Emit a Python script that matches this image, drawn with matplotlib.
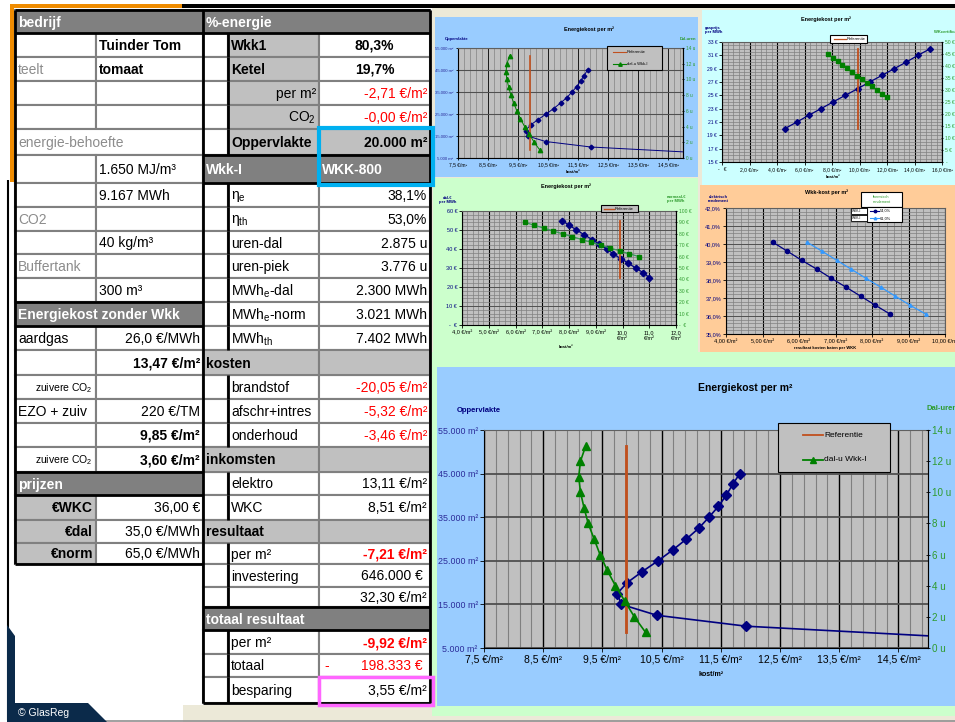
import matplotlib
matplotlib.use('Agg')
import matplotlib.pyplot as plt
from matplotlib.patches import Rectangle, Polygon
from matplotlib.ticker import FixedLocator, FuncFormatter

plt.rcParams['font.family'] = ['Liberation Sans', 'DejaVu Sans']
plt.rcParams['mathtext.fontset'] = 'custom'
plt.rcParams['mathtext.rm'] = 'Liberation Sans'
plt.rcParams['mathtext.bf'] = 'Liberation Sans:bold'

# energiekost per m2 vs oppervlakte (left axis) and dal-uren Wkk-I (right axis)
opp_m2 = [45000, 42500, 40000, 37500, 35000, 32500, 30000, 27500, 25000,
          22500, 20000, 17500, 15000, 12500, 10000, 7500]
opp_cost = [11.82, 11.70, 11.59, 11.46, 11.30, 11.13, 10.92, 10.69, 10.44,
            10.17, 9.92, 9.75, 9.82, 10.42, 11.93, 15.40]
dal_uren = [13, 12, 11, 10, 9, 8, 7, 6, 5, 4, 3, 2, 1]
dal_uren_cost = [9.22, 9.13, 9.10, 9.13, 9.19, 9.26, 9.36, 9.46, 9.58, 9.72,
                 9.88, 10.04, 10.23]
ref_cost = 9.9
ref_uren = [1, 13]

# energiekost vs gasprijs / WK-certificaat
gas_prijs = [20, 21, 22, 23, 24, 25, 26, 27, 28, 29, 30, 31, 32]
gas_cost = [4.56, 5.45, 6.30, 7.20, 8.07, 8.97, 9.87, 10.74, 11.64, 12.53,
            13.41, 14.25, 15.15]
wkc_prijs = [45, 43.5, 42, 40.5, 39, 37.5, 36, 34.5, 33, 31.5, 30, 28.5, 27]
wkc_cost = [7.72, 8.05, 8.41, 8.75, 9.11, 9.48, 9.84, 10.18, 10.57, 10.91,
            11.27, 11.64, 12.00]
ref_gas = [20, 32]

# energiekost vs dal- en normaal-prijs elektriciteit
dal_prijs = [55, 52.5, 50, 47.5, 45, 42.5, 40, 37.5, 35, 32.5, 30, 27.5, 25]
dal_prijs_cost = [7.72, 8.01, 8.28, 8.57, 8.86, 9.13, 9.42, 9.64, 9.93, 10.22,
                  10.49, 10.78, 11.00]
norm_prijs = [90, 87.5, 85, 82.5, 80, 77.5, 75, 72.5, 70, 67.5, 65, 62.5, 60]
norm_prijs_cost = [6.35, 6.70, 7.06, 7.41, 7.76, 8.12, 8.48, 8.84, 9.19, 9.54,
                   9.90, 10.25, 10.62]
ref_dal = [25, 55]

# wkk-kost vs elektrisch rendement, per thermisch rendement
el_rend = [40.1, 39.6, 39.1, 38.6, 38.1, 37.6, 37.1, 36.6, 36.1]
cost_th54 = [5.28, 5.68, 6.07, 6.49, 6.88, 7.29, 7.69, 8.09, 8.50]
cost_th61 = [6.22, 6.63, 7.03, 7.43, 7.83, 8.24, 8.64, 9.04, 9.48]

NAVY = '#000080'
GREEN = '#008000'
GREEN_TXT = '#2E9B2E'
BROWN = '#C0501E'
DARK = '#808080'
LIGHT = '#C0C0C0'
BEIGE = '#ECE9D8'
RED = '#FF0000'

W, H = 955, 722
fig = plt.figure(figsize=(W / 100, H / 100), dpi=100)
base = fig.add_axes([0, 0, 1, 1], zorder=-1)
base.set_xlim(0, W); base.set_ylim(H, 0); base.axis('off')
over = fig.add_axes([0, 0, 1, 1], zorder=20)
over.set_xlim(0, W); over.set_ylim(H, 0); over.axis('off')
over.patch.set_alpha(0)


def rect(ax, x0, y0, x1, y1, fc, ec='none', lw=0, z=1):
    ax.add_patch(Rectangle((x0, y0), x1 - x0, y1 - y0, facecolor=fc,
                           edgecolor=ec, lw=lw, zorder=z))


def hline(y, x0, x1, lw=2, c='black'):
    base.plot([x0, x1], [y, y], color=c, lw=lw, zorder=6, solid_capstyle='butt')


def vline(x, y0, y1, lw=2, c='black'):
    base.plot([x, x], [y0, y1], color=c, lw=lw, zorder=6, solid_capstyle='butt')


def px_axes(x0, y0, x1, y1, z=1):
    return fig.add_axes([x0 / W, 1 - y1 / H, (x1 - x0) / W, (y1 - y0) / H], zorder=z)


# ---------------- page background ----------------
rect(base, 432, 8, W, H, BEIGE, z=0)
rect(base, 183, 705, 432, H, BEIGE, z=0)
rect(base, 10, 4, 182, 8, '#F08C00', z=1)
rect(base, 10, 4, 14, 182, '#F08C00', z=1)
rect(base, 182, 4, W, 8, 'black', z=1)
vline(7.5, 180, 720, lw=1.5)
hline(720.5, 7, W, lw=1.2, c='#909090')
base.add_patch(Polygon([(7, 625), (15, 636), (15, 703), (88, 703), (107, 722), (7, 722)],
                       closed=True, facecolor='#0B2A4A', edgecolor='none', zorder=7))
base.text(18, 713, '© GlasReg', color='white', fontsize=7.5, va='center', zorder=8)

# ---------------- table ----------------
ROWS = [10, 33, 57, 81, 105, 129, 155, 183, 207, 231, 254, 278, 302, 326, 350,
        375, 399, 423, 447, 472, 495, 520, 543, 564, 587, 607, 630, 654, 677, 703]
L0, L1, L2 = 15, 96, 203
R0, R1, R2, R3 = 203, 228, 319, 430


def cell(r, x0, x1, text='', bg='white', color='black', bold=False, ha='left',
         fs=10, pad=3):
    y0, y1 = ROWS[r], ROWS[r + 1]
    rect(base, x0, y0, x1, y1, bg, DARK, 1.5, z=2)
    if text:
        tx = {'left': x0 + pad, 'right': x1 - pad, 'center': (x0 + x1) / 2}[ha]
        base.text(tx, (y0 + y1) / 2 + 1, text, ha=ha, va='center', color=color,
                  fontsize=fs, fontweight='bold' if bold else 'normal', zorder=4)


def head(r, x0, x1, text):
    cell(r, x0, x1, text, bg=DARK, color='white', bold=True)


GRAY_TXT = '#8C8C8C'
CO2_SMALL = 'zuivere CO$_\\mathregular{2}$'

# left block
head(0, L0, L2, 'bedrijf')
cell(1, L0, L1); cell(1, L1, L2, 'Tuinder Tom', bold=True)
cell(2, L0, L1, 'teelt', color=GRAY_TXT); cell(2, L1, L2, 'tomaat', bold=True)
cell(3, L0, L1); cell(3, L1, L2)
cell(4, L0, L1); cell(4, L1, L2)
cell(5, L0, L2, 'energie-behoefte', color=GRAY_TXT)
cell(6, L0, L1); cell(6, L1, L2, '1.650 MJ/m³')
cell(7, L0, L1); cell(7, L1, L2, '9.167 MWh')
cell(8, L0, L1, 'CO2', color=GRAY_TXT); cell(8, L1, L2)
cell(9, L0, L1); cell(9, L1, L2, '40 kg/m³')
cell(10, L0, L1, 'Buffertank', color=GRAY_TXT); cell(10, L1, L2)
cell(11, L0, L1); cell(11, L1, L2, '300 m³')
head(12, L0, L2, 'Energiekost zonder Wkk')
cell(13, L0, L1, 'aardgas'); cell(13, L1, L2, '26,0 €/MWh', ha='right')
cell(14, L0, L1); cell(14, L1, L2, '13,47 €/m²', bold=True, ha='right')
cell(15, L0, L1, CO2_SMALL, fs=7.5, ha='right'); cell(15, L1, L2)
cell(16, L0, L1, 'EZO + zuiv'); cell(16, L1, L2, '220 €/TM', ha='right')
cell(17, L0, L1); cell(17, L1, L2, '9,85 €/m²', bold=True, ha='right')
cell(18, L0, L1, CO2_SMALL, fs=7.5, ha='right'); cell(18, L1, L2, '3,60 €/m²', bold=True, ha='right')
head(19, L0, L2, 'prijzen')
cell(20, L0, L1, '€WKC', bg=LIGHT, bold=True, ha='right'); cell(20, L1, L2, '36,00 €', ha='right')
cell(21, L0, L1, '€dal', bg=LIGHT, bold=True, ha='right'); cell(21, L1, L2, '35,0 €/MWh', ha='right')
cell(22, L0, L1, '€norm', bg=LIGHT, bold=True, ha='right'); cell(22, L1, L2, '65,0 €/MWh', ha='right')
rect(base, L0, ROWS[23], L2, ROWS[29], 'white', z=2)

# right block
head(0, R0, R3, '%-energie')
right_rows = {
    1: ('Wkk1', LIGHT, True, 'left', '80,3%', 'black', True, 'center', 'white'),
    2: ('Ketel', LIGHT, True, 'left', '19,7%', 'black', True, 'center', 'white'),
    3: ('per m²', LIGHT, False, 'right', '-2,71 €/m²', RED, False, 'right', 'white'),
    4: ('CO$_\\mathregular{2}$', LIGHT, False, 'right', '-0,00 €/m²', RED, False, 'right', 'white'),
    5: ('Oppervlakte', LIGHT, True, 'left', '20.000 m²', 'black', True, 'right', LIGHT),
    7: ('η$_\\mathregular{e}$', 'white', False, 'left', '38,1%', 'black', False, 'right', 'white'),
    8: ('η$_\\mathregular{th}$', 'white', False, 'left', '53,0%', 'black', False, 'right', 'white'),
    9: ('uren-dal', 'white', False, 'left', '2.875 u', 'black', False, 'right', 'white'),
    10: ('uren-piek', 'white', False, 'left', '3.776 u', 'black', False, 'right', 'white'),
    11: ('MWh$_\\mathregular{e}$-dal', 'white', False, 'left', '2.300 MWh', 'black', False, 'right', 'white'),
    12: ('MWh$_\\mathregular{e}$-norm', 'white', False, 'left', '3.021 MWh', 'black', False, 'right', 'white'),
    13: ('MWh$_\\mathregular{th}$', 'white', False, 'left', '7.402 MWh', 'black', False, 'right', 'white'),
    15: ('brandstof', 'white', False, 'left', '-20,05 €/m²', RED, False, 'right', 'white'),
    16: ('afschr+intres', 'white', False, 'left', '-5,32 €/m²', RED, False, 'right', 'white'),
    17: ('onderhoud', 'white', False, 'left', '-3,46 €/m²', RED, False, 'right', 'white'),
    19: ('elektro', 'white', False, 'left', '13,11 €/m²', 'black', False, 'right', 'white'),
    20: ('WKC', 'white', False, 'left', '8,51 €/m²', 'black', False, 'right', 'white'),
    22: ('per m²', 'white', False, 'left', '-7,21 €/m²', RED, True, 'right', 'white'),
    23: ('investering', 'white', False, 'left', '646.000 €', 'black', False, 'right', 'white'),
    24: ('', 'white', False, 'left', '32,30 €/m²', 'black', False, 'right', 'white'),
    26: ('per m²', 'white', False, 'left', '-9,92 €/m²', RED, True, 'right', 'white'),
    27: ('totaal', 'white', False, 'left', '198.333 €', RED, False, 'right', 'white'),
    28: ('besparing', 'white', False, 'left', '3,55 €/m²', 'black', False, 'right', 'white'),
}
for r, (lab, lbg, lbold, lha, val, vcol, vbold, vha, vbg) in right_rows.items():
    cell(r, R0, R1)
    cell(r, R1, R2, lab, bg=lbg, bold=lbold, ha=lha)
    pad = 7 if val.endswith(' €') else 3
    cell(r, R2, R3, val, bg=vbg, color=vcol, bold=vbold, ha=vha, pad=pad)
base.text(R2 + 5, (ROWS[27] + ROWS[28]) / 2 + 1, '-', color=RED, fontsize=10,
          va='center', zorder=4)

cell(6, R0, R2, 'Wkk-I', bg=DARK, color='white', bold=True)
cell(6, R2, R3, 'WKK-800', bg=DARK, color='white', bold=True)
for r, lab in [(14, 'kosten'), (18, 'inkomsten'), (21, 'resultaat')]:
    cell(r, R0, R2, lab, bg=LIGHT, bold=True)
    cell(r, R2, R3, bg=LIGHT)
head(25, R0, R3, 'totaal resultaat')

# heavy borders
vline(L0, 10, 564); vline(L2, 10, 703); vline(R3, 10, 703)
hline(10, L0, R3); hline(33, L0, R3); hline(564, L0, L2); hline(703, R0, R3)
hline(302, L0, L2); hline(326, L0, L2); hline(472, L0, L2); hline(495, L0, L2)
hline(155, R0, R3); hline(183, R0, R3); hline(607, R0, R3); hline(630, R0, R3)
for r in [1, 2, 3, 4, 5, 7, 8, 9, 10, 11, 12, 13, 15, 16, 17, 19, 20, 22, 23, 24, 26, 27, 28]:
    vline(227.5, ROWS[r], ROWS[r + 1])
rect(over, 319, 128, 433, 185, 'none', '#00B0F0', 3, z=5)
rect(over, 319, 677, 433, 705, 'none', '#FF66FF', 2.5, z=5)

# ---------------- chart areas ----------------
rect(base, 435, 17, 698, 177, '#99CCFF', z=1)
rect(base, 702, 10, W, 185, '#CCFFFF', z=1)
rect(base, 433, 178, 698, 352, '#CCFFCC', z=1)
rect(base, 700, 185, W, 352, '#FFCC99', z=1)
rect(base, 432, 352, W, 716, '#CCFFCC', z=1)
rect(base, 437, 367, W, 706, '#99CCFF', z=1)


def plot_area(box, xlim, ylim, fs, tick_len=2.0):
    ax = px_axes(*box)
    ax.set_facecolor(LIGHT)
    ax.set_xlim(*xlim)
    ax.set_ylim(*ylim)
    ax.set_axisbelow(True)
    for s in ax.spines.values():
        s.set_color('#606060')
        s.set_linewidth(0.8)
    ax.spines['left'].set_color('black')
    ax.spines['bottom'].set_color('black')
    ax.tick_params(labelsize=fs, length=tick_len, width=0.6, pad=1.5)
    ax.tick_params(which='minor', length=0)
    return ax


def twin(ax, ylim, fs, tick_len=2.0):
    ax2 = ax.twinx()
    ax2.set_ylim(*ylim)
    for s in ax2.spines.values():
        s.set_visible(False)
    ax2.spines['right'].set_visible(True)
    ax2.spines['right'].set_color('black')
    ax2.tick_params(labelsize=fs, length=tick_len, width=0.6, pad=1.5,
                    direction='inout', labelcolor=GREEN_TXT)
    return ax2


def euro_m2(v, p):
    return f"{v:.1f}".replace('.', ',') + ' €/m²'


def money(v, p):
    return '-  €' if v == 0 else f"{v:.0f} €"


def legend_box(x0, y0, x1, y1, items, fs, hx0, hx1, ms, lw, fc=LIGHT):
    rect(over, x0, y0, x1, y1, fc, 'black', 0.8, z=5)
    n = len(items)
    for i, (label, color, marker) in enumerate(items):
        yy = y0 + (y1 - y0) * (i + 0.5) / n
        over.plot([hx0, hx1], [yy, yy], color=color, lw=lw, zorder=6)
        if marker:
            over.plot([(hx0 + hx1) / 2], [yy], marker=marker, color=color,
                      ms=ms, zorder=7)
        over.text(hx1 + 1, yy, label, fontsize=fs, va='center', ha='left', zorder=7)


def energy_chart(box, xmax, fs, ms, lw, grid_lw):
    ax = plot_area(box, (7.5, xmax), (5000, 55000), fs, tick_len=3 * grid_lw)
    ax.xaxis.set_major_locator(FixedLocator([7.5 + k for k in range(8)]))
    ax.xaxis.set_minor_locator(FixedLocator([7.5 + 0.2 * k for k in range(40) if k % 5]))
    ax.yaxis.set_major_locator(FixedLocator(list(range(5000, 55001, 10000))))
    ax.grid(which='major', axis='x', color='black', lw=grid_lw)
    ax.grid(which='minor', axis='x', color=DARK, lw=grid_lw * 0.8)
    ax.grid(which='major', axis='y', color='#505050', lw=grid_lw * 1.3)
    ax.xaxis.set_major_formatter(FuncFormatter(euro_m2))
    ax.yaxis.set_major_formatter(FuncFormatter(lambda v, p: f"{v:,.0f}".replace(',', '.') + ' m²'))
    ax.tick_params(axis='y', labelcolor='#2B2B99', labelsize=fs * 0.85)
    ax.plot(opp_cost, opp_m2, color=NAVY, marker='D', ms=ms, lw=lw)
    ax2 = twin(ax, (0, 14), fs * 0.95, tick_len=3 * grid_lw)
    ax2.yaxis.set_major_locator(FixedLocator(list(range(0, 15, 2))))
    ax2.yaxis.set_major_formatter(FuncFormatter(lambda v, p: f"{v:.0f} u"))
    ax2.plot([ref_cost, ref_cost], ref_uren, color=BROWN, lw=lw * 1.7)
    ax2.plot(dal_uren_cost, dal_uren, color=GREEN, marker='^', ms=ms * 1.3, lw=lw)
    return ax, ax2


# big chart
energy_chart((484, 430, 928, 648), 15.0, 7.5, 4.6, 1.2, 1.0)
over.text(745, 388, 'Energiekost per m²', fontsize=7.5, fontweight='bold', ha='center', va='center')
over.text(457, 411, 'Oppervlakte', fontsize=5.5, fontweight='bold', color=NAVY, va='center')
over.text(926, 408, 'Dal-uren', fontsize=5.5, fontweight='bold', color=GREEN_TXT, va='center')
over.text(698, 675, 'kost/m²', fontsize=5, fontweight='bold', va='center')
legend_box(778, 423, 890, 472, [('Referentie', BROWN, None), ('dal-u Wkk-I', GREEN, '^')],
           6, 803, 823, 5, 1.3)

# small copy top left
energy_chart((458, 48, 683, 158), 15.0, 3.6, 2.4, 0.7, 0.6)
over.text(589, 29, 'Energiekost per m²', fontsize=4, fontweight='bold', ha='center', va='center')
over.text(445, 39, 'Oppervlakte', fontsize=3, fontweight='bold', color=NAVY, va='center')
over.text(680, 39, 'Dal-uren', fontsize=3, fontweight='bold', color=GREEN_TXT, va='center')
over.text(566, 172, 'kost/m²', fontsize=3, fontweight='bold', va='center')
legend_box(607, 46, 662, 70, [('Referentie', BROWN, None), ('dal-u Wkk-I', GREEN, '^')],
           3, 613, 626, 2.5, 0.8)

# top right: gasprijs / WK-certificaat
ax = plot_area((722, 42, 942, 162), (0, 16), (15, 33), 3.6)
ax.xaxis.set_major_locator(FixedLocator(list(range(0, 17, 2))))
ax.xaxis.set_minor_locator(FixedLocator([0.4 * k for k in range(41) if k % 5]))
ax.yaxis.set_major_locator(FixedLocator(list(range(15, 34, 2))))
ax.yaxis.set_minor_locator(FixedLocator([15 + 0.5 * k for k in range(37) if k % 4]))
ax.grid(which='major', axis='x', color='black', lw=0.8)
ax.grid(which='minor', axis='x', color=DARK, lw=0.5)
ax.grid(which='both', axis='y', color=DARK, lw=0.5)
ax.xaxis.set_major_formatter(FuncFormatter(lambda v, p: '-   €' if v == 0 else euro_m2(v, p)))
ax.yaxis.set_major_formatter(FuncFormatter(money))
ax.tick_params(axis='y', labelcolor=NAVY)
ax.plot(gas_cost, gas_prijs, color=NAVY, marker='D', ms=3, lw=0.9)
ax.plot([ref_cost - 0.03, ref_cost - 0.03], ref_gas, color=BROWN, lw=1.3)
ax2 = twin(ax, (0, 50), 3.6)
ax2.yaxis.set_major_locator(FixedLocator(list(range(0, 51, 5))))
ax2.yaxis.set_major_formatter(FuncFormatter(lambda v, p: '-' if v == 0 else f"{v:.0f} €"))
ax2.plot(wkc_cost, wkc_prijs, color=GREEN, marker='s', ms=3.2, ls='none')
over.text(826, 19, 'Energiekost per m²', fontsize=4, fontweight='bold', ha='center', va='center')
over.text(705, 30, 'gasprijs\nper MWh', fontsize=3, fontweight='bold', color=NAVY,
          va='center', linespacing=1.3)
over.text(934, 32, 'WKcertificaat', fontsize=3, fontweight='bold', color=GREEN_TXT, va='center')
over.text(826, 177, 'kost/m²', fontsize=3, fontweight='bold', va='center')
legend_box(830, 35, 867, 43, [('Referentie', BROWN, None)], 3, 834, 846, 2, 0.9, fc='white')

# middle left: dal- en normaal-prijs
ax = plot_area((462, 211, 676, 325), (4, 12), (0, 60), 4)
ax.xaxis.set_major_locator(FixedLocator(list(range(4, 13))))
ax.xaxis.set_minor_locator(FixedLocator([4 + 0.2 * k for k in range(41) if k % 5]))
ax.yaxis.set_major_locator(FixedLocator(list(range(0, 61, 10))))
ax.yaxis.set_minor_locator(FixedLocator([2 * k for k in range(31) if k % 5]))
ax.grid(which='major', axis='x', color='black', lw=0.8)
ax.grid(which='minor', axis='x', color=DARK, lw=0.5)
ax.grid(which='major', axis='y', color='#505050', lw=0.7)
ax.grid(which='minor', axis='y', color=DARK, lw=0.5)
ax.xaxis.set_major_formatter(FuncFormatter(
    lambda v, p: (f"{v:.1f}".replace('.', ',') + ('\n€/m²' if v >= 10 else ' €/m²'))))
ax.yaxis.set_major_formatter(FuncFormatter(money))
ax.tick_params(axis='y', labelcolor=NAVY)
ax.plot(dal_prijs_cost, dal_prijs, color=NAVY, marker='D', ms=3.3, lw=0.9)
ax.plot([ref_cost, ref_cost], ref_dal, color=BROWN, lw=1.3)
ax2 = twin(ax, (0, 100), 3.6)
ax2.yaxis.set_major_locator(FixedLocator(list(range(0, 101, 10))))
ax2.yaxis.set_major_formatter(FuncFormatter(money))
ax2.plot(norm_prijs_cost, norm_prijs, color='#3A9A5A', marker='s', ms=3.3, lw=0.9,
         mfc=GREEN, mec=GREEN)
over.text(566, 186, 'Energiekost per m²', fontsize=4, fontweight='bold', ha='center', va='center')
over.text(448, 200, 'dal-€\nper MWh', fontsize=3, fontweight='bold', color=NAVY,
          ha='center', va='center', linespacing=1.3)
over.text(676, 199, 'normaal-€\nper MWh', fontsize=3, fontweight='bold', color=GREEN_TXT,
          ha='center', va='center', linespacing=1.3)
over.text(566, 347, 'kost/m²', fontsize=3, fontweight='bold', ha='center', va='center')
legend_box(601, 205, 638, 212, [('Referentie', BROWN, None)], 3, 604, 614, 2, 1.0)

# middle right: wkk-kost vs elektrisch rendement
ax = plot_area((726, 208, 945, 334), (4, 10), (35, 42), 4)
ax.xaxis.set_major_locator(FixedLocator(list(range(4, 11))))
ax.xaxis.set_minor_locator(FixedLocator([4 + 0.2 * k for k in range(31) if k % 5]))
ax.yaxis.set_major_locator(FixedLocator(list(range(35, 43))))
ax.yaxis.set_minor_locator(FixedLocator([35 + 0.2 * k for k in range(36) if k % 5]))
ax.grid(which='major', axis='x', color='black', lw=0.8)
ax.grid(which='minor', axis='x', color=DARK, lw=0.5)
ax.grid(which='major', axis='y', color='#505050', lw=0.7)
ax.grid(which='minor', axis='y', color=DARK, lw=0.5)
ax.xaxis.set_major_formatter(FuncFormatter(lambda v, p: f"{v:.2f}".replace('.', ',') + ' €/m²'))
ax.yaxis.set_major_formatter(FuncFormatter(lambda v, p: f"{v:.1f}".replace('.', ',') + '%'))
ax.tick_params(axis='y', labelcolor=NAVY)
ax.plot(cost_th54, el_rend, color=NAVY, marker='o', ms=3, lw=0.9)
ax.plot(cost_th61, el_rend, color='#3399FF', marker='^', ms=2.4, lw=0.9)
over.text(827, 192, 'Wkk-kost per m²', fontsize=4, fontweight='bold', ha='center', va='center')
over.text(718, 199, 'elektrisch\nrendement', fontsize=3, fontweight='bold', color=NAVY,
          ha='center', va='center', linespacing=1.3)
over.text(825, 348, 'resultaat kosten baten per WKK', fontsize=3, fontweight='bold',
          ha='center', va='center')
rect(over, 861, 192, 902, 207, 'white', 'black', 0.8, z=5)
over.text(881.5, 199.5, 'thermisch\nrendement', fontsize=2.8, color=GREEN_TXT,
          ha='center', va='center', zorder=6, linespacing=1.6)
legend_box(867, 207, 902, 222, [('54,0%', NAVY, 'o'), ('61,0%', '#3399FF', '^')],
           2.8, 870, 879, 1.8, 0.8, fc='white')
for y0 in (208, 215):
    rect(over, 851, y0, 867, y0 + 6, 'white', 'black', 0.6, z=5)
    over.text(852, y0 + 3, 'WKK-I', fontsize=2.3, va='center', zorder=6)

fig.savefig('out.png', dpi=100)
